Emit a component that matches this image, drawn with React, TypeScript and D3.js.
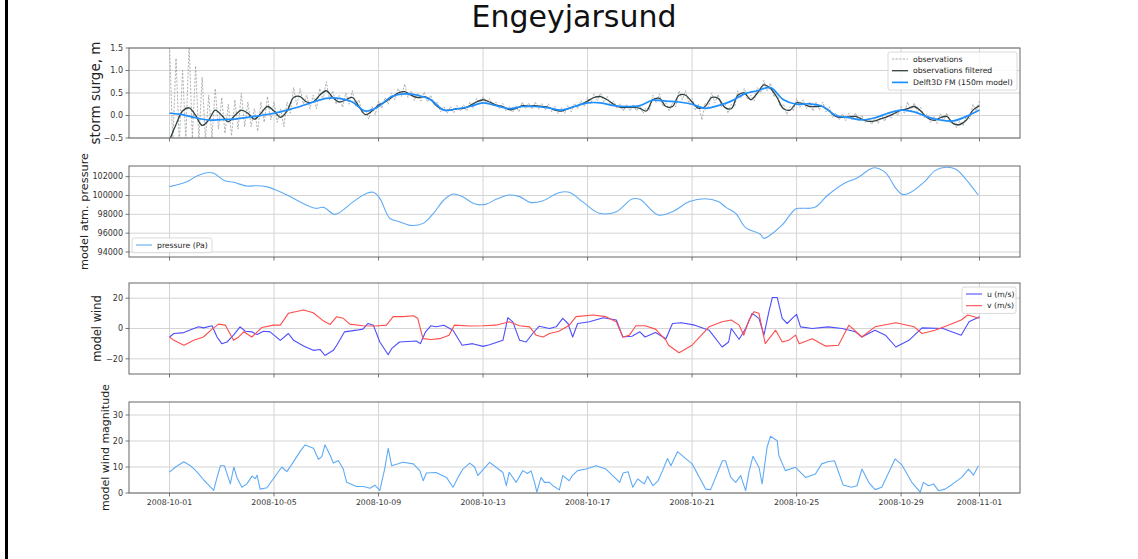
import React from "react";
import * as d3 from "d3";

// ---------------- DATA ----------------
const START = Date.UTC(2008, 9, 1);
const DAY = 864e5;
const toDate = (d: number) => new Date(START + d * DAY);

const xTickDays = [0, 4, 8, 12, 16, 20, 24, 28, 31];
const surgeTicks = [-0.5, 0, 0.5, 1, 1.5];
const pressureTicks = [94000, 96000, 98000, 100000, 102000];
const windTicks = [-20, 0, 20];
const magTicks = [0, 10, 20, 30];

// observations, one value every 3 hours (8 per day)
const obsPerDay = 8;
const observations = [
  1.6, -0.6, 1.27, -0.6, 1.0, -0.55, 1.6, -0.5,
  1.1, -0.55, 0.85, -0.55, 0.45, -0.5, 0.6, -0.3,
  0.4, -0.4, 0.25, -0.45, 0.35, -0.3, 0.5, -0.25,
  0.3, -0.25, 0.15, -0.35, 0.3, -0.15, 0.42, -0.1,
  0.3, -0.15, 0.15, -0.25, 0.3, 0.05, 0.62, 0.22,
  0.6, 0.25, 0.45, 0.15, 0.45, 0.15, 0.6, 0.35,
  0.75, 0.35, 0.55, 0.25, 0.45, 0.18, 0.5, 0.25,
  0.55, 0.2, 0.35, 0.05, 0.12, -0.08, 0.2, 0.02,
  0.33, 0.16, 0.4, 0.25, 0.5, 0.35, 0.6, 0.42,
  0.7, 0.4, 0.55, 0.33, 0.5, 0.32, 0.52, 0.3,
  0.45, 0.22, 0.3, 0.08, 0.2, 0.05, 0.2, 0.06,
  0.22, 0.1, 0.24, 0.1, 0.3, 0.16, 0.38, 0.25,
  0.42, 0.27, 0.38, 0.2, 0.3, 0.15, 0.27, 0.1,
  0.2, 0.07, 0.22, 0.08, 0.3, 0.15, 0.28, 0.14,
  0.3, 0.14, 0.27, 0.12, 0.26, 0.08, 0.2, 0.04,
  0.17, 0.05, 0.22, 0.08, 0.27, 0.15, 0.33, 0.2,
  0.4, 0.26, 0.48, 0.33, 0.5, 0.3, 0.42, 0.22,
  0.32, 0.15, 0.26, 0.1, 0.25, 0.1, 0.25, 0.1,
  0.22, 0.05, 0.18, 0.12, 0.45, 0.28, 0.48, 0.2,
  0.28, 0.1, 0.28, 0.2, 0.55, 0.35, 0.55, 0.28,
  0.38, 0.12, 0.25, -0.1, 0.28, 0.18, 0.5, 0.28,
  0.47, 0.2, 0.28, 0.05, 0.25, 0.18, 0.55, 0.38,
  0.6, 0.35, 0.45, 0.32, 0.62, 0.5, 0.78, 0.55,
  0.72, 0.42, 0.5, 0.2, 0.25, 0.02, 0.2, 0.1,
  0.38, 0.18, 0.35, 0.15, 0.3, 0.1, 0.3, 0.12,
  0.3, 0.08, 0.2, -0.04, 0.06, -0.1, 0.04, -0.12,
  0.05, -0.1, 0.06, -0.12, 0.0, -0.16, -0.05, -0.2,
  -0.04, -0.18, 0.02, -0.13, 0.07, -0.06, 0.13, 0.0,
  0.2, 0.05, 0.3, 0.1, 0.28, 0.07, 0.18, -0.05,
  0.04, -0.15, -0.02, -0.18, 0.04, -0.12, 0.06, -0.18,
  -0.1, -0.27, -0.12, -0.22, 0.0, -0.08, 0.25, 0.1,
  0.32,
];

// filtered observations, every 6 hours
const filteredPerDay = 4;
const observationsFiltered = [
  -0.55, -0.2, 0.1, 0.17, 0.0, -0.22, -0.1, 0.12, 0.0, -0.14, 0.0, 0.12,
  0.05, -0.08, 0.05, 0.2, 0.1, -0.04, 0.1, 0.4, 0.42, 0.3, 0.3, 0.45,
  0.55, 0.4, 0.3, 0.35, 0.4, 0.2, 0.02, 0.1, 0.23, 0.3, 0.4, 0.5,
  0.53, 0.45, 0.4, 0.42, 0.35, 0.2, 0.12, 0.12, 0.15, 0.16, 0.22, 0.3,
  0.35, 0.3, 0.23, 0.2, 0.13, 0.15, 0.22, 0.21, 0.22, 0.2, 0.18, 0.12,
  0.1, 0.15, 0.2, 0.25, 0.32, 0.4, 0.42, 0.35, 0.25, 0.18, 0.18, 0.18,
  0.16, 0.1, 0.35, 0.38, 0.2, 0.2, 0.45, 0.45, 0.3, 0.16, 0.2, 0.4,
  0.38, 0.18, 0.15, 0.45, 0.5, 0.35, 0.5, 0.68, 0.6, 0.4, 0.15, 0.12,
  0.28, 0.26, 0.2, 0.2, 0.2, 0.1, -0.02, -0.04, -0.03, -0.02, -0.08, -0.13,
  -0.12, -0.07, -0.02, 0.05, 0.12, 0.15, 0.2, 0.1, -0.05, -0.11, -0.05, -0.02,
  -0.18, -0.2, -0.1, 0.12, 0.22,
];

// Delft3D FM model, every 12 hours
const modelPerDay = 2;
const delft3dModel = [
  0.05, 0.02, -0.05, -0.1, -0.09, -0.08, -0.04, 0.0, 0.05, 0.12, 0.2, 0.3,
  0.38, 0.38, 0.3, 0.1, 0.2, 0.42, 0.48, 0.45, 0.35, 0.12, 0.15, 0.2,
  0.28, 0.22, 0.15, 0.2, 0.2, 0.17, 0.12, 0.2, 0.28, 0.28, 0.22, 0.2,
  0.22, 0.34, 0.32, 0.3, 0.25, 0.16, 0.22, 0.32, 0.48, 0.55, 0.62, 0.35,
  0.25, 0.26, 0.2, 0.0, -0.05, -0.1, -0.05, 0.05, 0.12, 0.08, -0.03, -0.1,
  -0.12, -0.02, 0.12,
];

// [day offset, Pa]
const pressure: [number, number][] = [
  [0, 100940], [0.67, 101470], [1.05, 102070], [1.44, 102420], [1.7, 102350], [2.1, 101580],
  [2.45, 101400], [2.96, 101010], [3.35, 101040], [3.7, 100940], [4.0, 100660], [4.5, 100050],
  [5.1, 99170], [5.6, 98640], [5.9, 98740], [6.3, 98000], [6.5, 98180], [7.04, 99350],
  [7.55, 100230], [7.8, 100340], [8.05, 99700], [8.43, 97580], [8.8, 97220], [9.2, 96830],
  [9.7, 97040], [10.1, 98100], [10.5, 99520], [10.85, 100160], [11.2, 99880], [11.7, 99100],
  [12.1, 99060], [12.5, 99590], [13.0, 100050], [13.4, 99880], [13.8, 99270], [14.3, 99450],
  [14.9, 100300], [15.3, 100340], [15.8, 99350], [16.45, 98110], [17.1, 98280], [17.7, 99630],
  [18.0, 99590], [18.7, 97930], [19.25, 98280], [19.9, 99350], [20.5, 99660], [21.0, 99350],
  [21.3, 98740], [21.67, 98110], [22.05, 96590], [22.6, 95910], [22.75, 95450], [22.94, 95700],
  [23.45, 96870], [23.96, 98570], [24.2, 98640], [24.7, 98740], [25.2, 100050], [25.9, 101400],
  [26.3, 101820], [26.8, 102780], [27.0, 102950], [27.4, 102420], [27.8, 100760], [28.05, 100120],
  [28.3, 100230], [28.9, 101470], [29.3, 102640], [29.7, 103000], [30.1, 102780], [30.45, 101820],
  [30.95, 100050],
];

// [day offset, m/s]
const windU: [number, number][] = [
  [0, -5.6], [0.17, -3.3], [0.55, -2.7], [0.93, 0], [1.12, 1.1], [1.3, 0.4], [1.63, 1.8],
  [1.82, -5.6], [2.0, -10], [2.2, -8.9], [2.45, -4.4], [2.7, 1.1], [2.9, -1.8], [3.15, -2.2],
  [3.35, -4], [3.6, -1.8], [3.85, -2.2], [4.24, -7.8], [4.55, -3.3], [4.75, -7.8], [5.13, -11.6],
  [5.5, -14.4], [5.76, -13.8], [5.95, -17.8], [6.27, -14.4], [6.4, -11], [6.7, -2.2], [7.16, -1.1],
  [7.4, -0.4], [7.6, 3.3], [7.8, 2.2], [8.05, -8.9], [8.37, -17.3], [8.5, -13.3], [8.8, -8.9],
  [9.45, -8.2], [9.6, -10], [9.8, -2.2], [10.0, 1.8], [10.2, 1.1], [10.5, 2.2], [10.85, -1.1],
  [11.2, -11], [11.6, -10], [12.0, -11.8], [12.25, -10.7], [12.76, -7.8], [12.95, 7.1], [13.14, 4.4],
  [13.4, -7.8], [13.65, -8.9], [13.9, -3.3], [14.15, 1.5], [14.54, 0], [14.8, 1.1], [15.05, 6.7],
  [15.25, 3.3], [15.43, -5.6], [15.62, 3.3], [16.07, 4.4], [16.6, 7.1], [17.1, 5.6], [17.35, -5.6],
  [17.7, -5.1], [18.0, -2.2], [18.2, -5.6], [18.6, -2.7], [19.0, -6.7], [19.25, 3.3], [19.6, 3.8],
  [20.1, 2.2], [20.65, -1.1], [21.15, -12.2], [21.4, -8.9], [21.5, 0], [21.8, -7.1], [22.05, 0],
  [22.3, 10], [22.56, 6.7], [22.75, -4.4], [22.94, 11.1], [23.07, 20.4], [23.26, 20.4], [23.45, 6.7],
  [23.64, 3.3], [23.83, 6.7], [24.0, 9.3], [24.15, 1.1], [24.6, 0], [25.2, 1.1], [25.74, 0],
  [26.25, -2.2], [26.5, -5.6], [27.0, -1.1], [27.4, -4.4], [27.8, -12.2], [28.3, -7.8], [28.8, 0.4],
  [29.6, 0], [30.3, -4.4], [30.6, 4.4], [31.0, 7.8],
];

const windV: [number, number][] = [
  [0, -5.6], [0.17, -7.8], [0.55, -11], [0.93, -7.8], [1.3, -5.6], [1.63, -0.4], [1.88, 2.9],
  [2.14, 2.2], [2.45, -7.8], [2.65, -5.6], [2.84, -2.2], [3.15, -5.6], [3.54, 0.7], [3.98, 2.2],
  [4.24, 2.2], [4.55, 10], [5.13, 12.2], [5.5, 10.4], [5.9, 4.9], [6.15, 2.7], [6.4, 7.8],
  [6.65, 6.7], [6.9, 2.9], [7.4, 1.8], [7.9, 1.6], [8.3, 2.2], [8.56, 7.8], [8.94, 7.8],
  [9.33, 8.4], [9.5, 6.7], [9.7, -6.7], [10.0, -7.3], [10.34, -6.7], [10.7, -4.4], [10.9, 2.2],
  [11.5, 1.6], [12.0, 1.8], [12.5, 2.2], [13.0, 4.4], [13.4, 1.8], [13.78, 1.1], [14.03, -4.4],
  [14.3, -5.6], [14.54, -3.3], [14.9, -1.8], [15.3, 2.2], [15.56, 7.8], [16.2, 8.9], [16.7, 7.8],
  [17.1, 4.4], [17.35, -5.6], [17.6, -4.4], [17.85, 1.8], [18.2, 1.8], [18.6, -0.4], [19.0, -7.8],
  [19.1, -11], [19.5, -16], [20.0, -11], [20.65, 1.1], [21.15, 4.4], [21.5, 5.6], [21.8, 2.2],
  [21.98, -4.4], [22.18, 5.6], [22.37, 11.1], [22.56, 10], [22.8, -10], [23.2, -1.1], [23.45, -8.9],
  [23.7, -7.8], [23.96, -4.4], [24.1, -10], [24.6, -6.7], [25.1, -11.6], [25.6, -11], [26.0, 2.2],
  [26.5, -5.6], [27.0, 1.1], [27.8, 3.8], [28.5, 1.1], [28.8, -3.3], [29.3, -1.1], [29.8, 2.2],
  [30.3, 5.6], [30.55, 8.9], [31.0, 6.7],
];

const windMagnitude: [number, number][] = [
  [0, 8], [0.23, 10], [0.55, 12], [0.8, 10.5], [1.06, 8], [1.31, 5], [1.5, 3], [1.69, 1],
  [1.82, 6], [1.95, 10.5], [2.1, 10.5], [2.33, 3.5], [2.46, 10], [2.58, 6], [2.77, 2.2], [2.96, 3.5],
  [3.16, 6.5], [3.28, 5.5], [3.35, 6.8], [3.47, 1.5], [3.73, 2], [3.92, 4.7], [4.3, 10], [4.49, 8.2],
  [4.68, 11], [5.0, 16], [5.19, 18.5], [5.51, 17.2], [5.7, 13], [5.83, 14], [5.95, 18.5], [6.15, 14.5],
  [6.27, 11.5], [6.46, 12.5], [6.65, 9.2], [6.78, 4.1], [7.16, 2.5], [7.42, 2.5], [7.67, 1.8],
  [7.86, 3], [8.05, 1], [8.24, 9.5], [8.37, 17.2], [8.5, 10.5], [8.94, 11.8], [9.33, 11.2],
  [9.58, 8.6], [9.71, 4.7], [9.83, 7.7], [10.2, 7.9], [10.6, 6], [10.85, 2.2], [11.04, 6],
  [11.23, 9.2], [11.49, 11.5], [11.68, 10], [11.8, 6.7], [12.0, 9], [12.25, 11.8], [12.5, 9.9],
  [12.76, 7.9], [12.89, 2.8], [13.0, 8], [13.27, 4.1], [13.52, 8.6], [13.7, 7.5], [13.84, 8.5],
  [13.97, 4.1], [14.06, 0.3], [14.22, 6], [14.35, 4.1], [14.54, 4.1], [14.67, 2.8], [14.92, 1.2],
  [15.05, 6.7], [15.3, 4.7], [15.43, 6.9], [15.62, 8.6], [15.94, 9.2], [16.33, 10.5], [16.7, 9.2],
  [17.23, 4.1], [17.36, 7.7], [17.55, 8.2], [17.73, 2.2], [17.92, 5.4], [18.17, 3.5], [18.3, 6.4],
  [18.5, 2.8], [18.7, 4.7], [18.87, 8.6], [19.06, 13.3], [19.19, 10.5], [19.44, 15.9], [20.0, 11.2],
  [20.52, 1.5], [20.71, 1.3], [21.16, 12.4], [21.28, 12.4], [21.48, 6], [21.67, 4.1], [21.86, 6.7],
  [22.05, 0.9], [22.18, 8.2], [22.33, 14.1], [22.56, 9.9], [22.68, 3.5], [22.87, 17.6], [23.0, 21.8],
  [23.26, 20.1], [23.32, 14.4], [23.57, 8.6], [23.96, 9.9], [24.34, 6], [24.72, 7.3], [24.96, 11.2],
  [25.2, 12], [25.45, 12.4], [25.78, 3.1], [26.1, 2.2], [26.31, 2.8], [26.5, 9.2], [26.76, 4.1],
  [27.0, 1.3], [27.26, 2.2], [27.77, 13.1], [28.03, 10.8], [28.41, 4.1], [28.73, 0.3], [28.85, 4.1],
  [29.05, 2.8], [29.24, 3.5], [29.43, 0.9], [29.68, 1.5], [29.94, 3.2], [30.32, 6], [30.58, 9.2],
  [30.77, 6.9], [30.96, 10.5],
];

// ---------------- LAYOUT ----------------
const W = 1138;
const H = 559;
const LEFT = 129;
const RIGHT = 1020;
const FONT = "DejaVu Sans, sans-serif";

const x = d3
  .scaleUtc()
  .domain([toDate(-1.55), toDate(32.55)])
  .range([LEFT, RIGHT]);

type Panel = {
  top: number;
  bottom: number;
  domain: [number, number];
  ticks: number[];
  fmt: (n: number) => string;
  label: string;
  labelX: number;
  labelSize: number;
};

const panels: Panel[] = [
  { top: 48, bottom: 138, domain: [-0.5, 1.5], ticks: surgeTicks, fmt: d3.format(".1f"), label: "storm surge, m", labelX: 95, labelSize: 13.5 },
  { top: 166, bottom: 257, domain: [93470, 103130], ticks: pressureTicks, fmt: d3.format("d"), label: "model atm. pressure", labelX: 84, labelSize: 11.3 },
  { top: 283, bottom: 374, domain: [-30, 30], ticks: windTicks, fmt: d3.format("d"), label: "model wind", labelX: 97, labelSize: 11.5 },
  { top: 402, bottom: 493, domain: [0, 35], ticks: magTicks, fmt: d3.format("d"), label: "model wind magnitude", labelX: 105, labelSize: 11 },
];

const yScale = (p: Panel) => d3.scaleLinear().domain(p.domain).range([p.bottom, p.top]);

const regular = (vals: number[], perDay: number): [number, number][] =>
  vals.map((v, i) => [i / perDay, v]);

function makeLine(p: Panel, curve: d3.CurveFactory = d3.curveLinear) {
  const y = yScale(p);
  return d3
    .line<[number, number]>()
    .x((d) => x(toDate(d[0])))
    .y((d) => y(d[1]))
    .curve(curve);
}

const C_OBS = "#a0a0a0";
const C_FILT = "#2f4040";
const C_MODEL = "#1e8fff";
const C_LIGHT = "#5fabf5";
const C_U = "#4d4dff";
const C_V = "#ff4d4d";

function Legend({ x0, y0, w, items }: { x0: number; y0: number; w: number; items: { label: string; color: string; dash?: string; width: number }[] }) {
  const rowH = 11.7;
  const h = items.length * rowH + 3;
  return (
    <g>
      <rect x={x0} y={y0} width={w} height={h} rx={2} fill="white" fillOpacity={0.85} stroke="#d0d0d0" strokeWidth={0.8} />
      {items.map((it, i) => {
        const cy = y0 + 7 + i * rowH;
        return (
          <g key={it.label}>
            <line x1={x0 + 4} x2={x0 + 20} y1={cy} y2={cy} stroke={it.color} strokeWidth={it.width} strokeDasharray={it.dash} />
            <text x={x0 + 25} y={cy} dy="0.35em" fontSize={7.7} fill="#222" fontFamily={FONT}>
              {it.label}
            </text>
          </g>
        );
      })}
    </g>
  );
}

export default function App() {
  const xTicks = xTickDays.map(toDate);
  const fmtDate = d3.utcFormat("%Y-%m-%d");

  const [p1, p2, p3, p4] = panels;
  const obsPath = makeLine(p1)(regular(observations, obsPerDay));
  const filtPath = makeLine(p1, d3.curveCatmullRom)(regular(observationsFiltered, filteredPerDay));
  const modelPath = makeLine(p1, d3.curveCatmullRom)(regular(delft3dModel, modelPerDay));
  const presPath = makeLine(p2, d3.curveCatmullRom)(pressure);
  const uPath = makeLine(p3)(windU);
  const vPath = makeLine(p3)(windV);
  const magPath = makeLine(p4)(windMagnitude);

  const series: { panel: number; d: string | null; color: string; width: number; dash?: string }[] = [
    { panel: 0, d: obsPath, color: C_OBS, width: 0.8, dash: "2.2,1.4" },
    { panel: 0, d: filtPath, color: C_FILT, width: 1.3 },
    { panel: 0, d: modelPath, color: C_MODEL, width: 1.7 },
    { panel: 1, d: presPath, color: C_LIGHT, width: 1.1 },
    { panel: 2, d: uPath, color: C_U, width: 1.1 },
    { panel: 2, d: vPath, color: C_V, width: 1.1 },
    { panel: 3, d: magPath, color: C_LIGHT, width: 1.1 },
  ];

  return (
    <svg width={W} height={H} style={{ position: "absolute", left: 0, top: 0, background: "white" }} fontFamily={FONT}>
      <rect x={0} y={0} width={W} height={H} fill="white" />
      <rect x={5} y={0} width={3} height={H} fill="black" />
      <text x={574} y={27} textAnchor="middle" fontSize={30} fill="#111" fontFamily={FONT}>
        Engeyjarsund
      </text>
      <defs>
        {panels.map((p, i) => (
          <clipPath id={`clip${i}`} key={i}>
            <rect x={LEFT} y={p.top} width={RIGHT - LEFT} height={p.bottom - p.top} />
          </clipPath>
        ))}
      </defs>
      {panels.map((p, i) => {
        const y = yScale(p);
        return (
          <g key={i}>
            {xTicks.map((t, j) => (
              <line key={"gx" + j} x1={x(t)} x2={x(t)} y1={p.top} y2={p.bottom} stroke="#d4d4d4" strokeWidth={1} />
            ))}
            {p.ticks.map((t, j) => (
              <line key={"gy" + j} x1={LEFT} x2={RIGHT} y1={y(t)} y2={y(t)} stroke="#d4d4d4" strokeWidth={1} />
            ))}
            <g clipPath={`url(#clip${i})`}>
              {series
                .filter((s) => s.panel === i)
                .map((s, k) => (
                  <path key={k} d={s.d || ""} fill="none" stroke={s.color} strokeWidth={s.width} strokeDasharray={s.dash} strokeLinejoin="round" />
                ))}
            </g>
            <rect x={LEFT} y={p.top} width={RIGHT - LEFT} height={p.bottom - p.top} fill="none" stroke="#666" strokeWidth={1} />
            {p.ticks.map((t, j) => (
              <g key={"ty" + j}>
                <line x1={LEFT - 3.5} x2={LEFT} y1={y(t)} y2={y(t)} stroke="#555" strokeWidth={0.8} />
                <text x={LEFT - 6} y={y(t)} dy="0.35em" textAnchor="end" fontSize={8} fill="#333">
                  {p.fmt(t)}
                </text>
              </g>
            ))}
            {xTicks.map((t, j) => (
              <line key={"tx" + j} x1={x(t)} x2={x(t)} y1={p.bottom} y2={p.bottom + 3.5} stroke="#555" strokeWidth={0.8} />
            ))}
            <text
              transform={`translate(${p.labelX},${(p.top + p.bottom) / 2}) rotate(-90)`}
              textAnchor="middle"
              dy="0.35em"
              fontSize={p.labelSize}
              fill="#222"
            >
              {p.label}
            </text>
          </g>
        );
      })}
      {xTicks.map((t, j) => (
        <text key={"xl" + j} x={x(t)} y={p4.bottom + 12} textAnchor="middle" fontSize={7.8} fill="#333">
          {fmtDate(t)}
        </text>
      ))}
      <Legend
        x0={888}
        y0={52}
        w={129}
        items={[
          { label: "observations", color: C_OBS, dash: "2.2,1.4", width: 0.9 },
          { label: "observations filtered", color: C_FILT, width: 1.3 },
          { label: "Delft3D FM (150m model)", color: C_MODEL, width: 1.7 },
        ]}
      />
      <Legend x0={132} y0={238} w={80} items={[{ label: "pressure (Pa)", color: C_LIGHT, width: 1.1 }]} />
      <Legend
        x0={962}
        y0={287}
        w={54}
        items={[
          { label: "u (m/s)", color: C_U, width: 1.1 },
          { label: "v (m/s)", color: C_V, width: 1.1 },
        ]}
      />
    </svg>
  );
}
